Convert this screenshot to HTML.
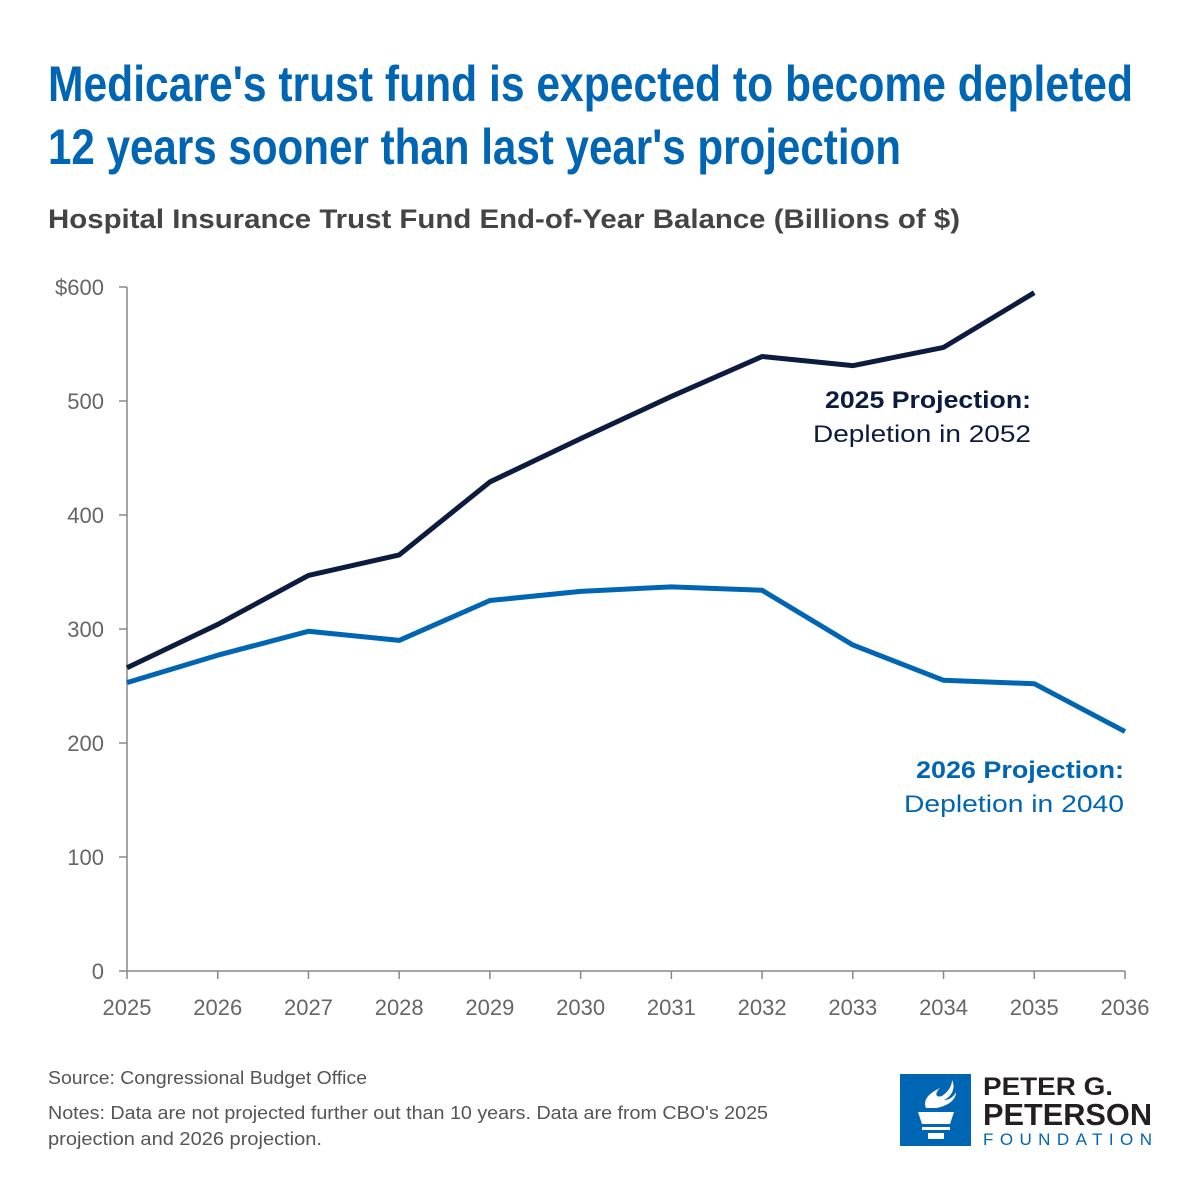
<!DOCTYPE html>
<html><head><meta charset="utf-8"><style>
body{margin:0;background:#fff;}
svg{display:block;font-family:"Liberation Sans",sans-serif;}
</style></head><body>
<svg id="chart" width="1200" height="1200" viewBox="0 0 1200 1200">
<text x="48" y="101" font-size="50" font-weight="bold" fill="#0066b3" textLength="1085" lengthAdjust="spacingAndGlyphs">Medicare's trust fund is expected to become depleted</text>
<text x="48" y="164" font-size="50" font-weight="bold" fill="#0066b3" textLength="853" lengthAdjust="spacingAndGlyphs">12 years sooner than last year's projection</text>
<text x="48" y="228" font-size="27" font-weight="bold" fill="#444" textLength="912" lengthAdjust="spacingAndGlyphs">Hospital Insurance Trust Fund End-of-Year Balance (Billions of $)</text>
<g id="axes"></g>
<g id="lines"></g>
<text x="825" y="408" font-size="24" font-weight="bold" fill="#0d1b3e" textLength="206" lengthAdjust="spacingAndGlyphs">2025 Projection:</text>
<text x="813" y="442" font-size="24" fill="#0d1b3e" textLength="218" lengthAdjust="spacingAndGlyphs">Depletion in 2052</text>
<text x="916" y="778" font-size="24" font-weight="bold" fill="#0066b3" textLength="208" lengthAdjust="spacingAndGlyphs">2026 Projection:</text>
<text x="904" y="812" font-size="24" fill="#0066b3" textLength="220" lengthAdjust="spacingAndGlyphs">Depletion in 2040</text>
<text x="48" y="1084" font-size="18" fill="#555" textLength="319" lengthAdjust="spacingAndGlyphs">Source: Congressional Budget Office</text>
<text x="48" y="1119" font-size="18" fill="#555" textLength="720" lengthAdjust="spacingAndGlyphs">Notes: Data are not projected further out than 10 years. Data are from CBO's 2025</text>
<text x="48" y="1145" font-size="18" fill="#555" textLength="274" lengthAdjust="spacingAndGlyphs">projection and 2026 projection.</text>
<g>
<rect x="900" y="1074" width="71" height="72" fill="#0066b3"/>
<path d="M918 1112 h36 l-4 12 h-28 z M922 1127 h28 v3 h-28 z M928 1133 h16 v6 h-16 z" fill="#fff"/>
<path d="M926 1108 c-4-10 6-16 14-20 c-6 6-4 10 2 8 c6-4 10-10 10-16 c4 8 0 16-8 20 c6 0 10-4 12-8 c0 8-8 14-20 16 z" fill="#fff"/>
<text x="983" y="1095" font-size="25" font-weight="bold" fill="#231f20" textLength="130" lengthAdjust="spacingAndGlyphs">PETER G.</text>
<text x="983" y="1125" font-size="31" font-weight="bold" fill="#231f20" textLength="169" lengthAdjust="spacingAndGlyphs">PETERSON</text>
<text x="983" y="1145" font-size="17" fill="#0066b3" textLength="169" lengthAdjust="spacing">FOUNDATION</text>
</g>
</svg>
<script>
const years=[2025,2026,2027,2028,2029,2030,2031,2032,2033,2034,2035,2036];
const proj2025=[266,304,347,365,429,467,504,539,531,547,595];
const proj2026=[253,277,298,290,325,333,337,334,286,255,252,210];
const yTicks=[0,100,200,300,400,500,600];
const yTickLabels=["0","100","200","300","400","500","$600"];
const NS="http://www.w3.org/2000/svg";
const x=y=>127+(y-2025)*(1125-127)/11;
const yv=v=>971-v*(971-287)/600;
const axes=document.getElementById('axes');
function mk(tag,attrs,parent){const e=document.createElementNS(NS,tag);for(const k in attrs)e.setAttribute(k,attrs[k]);parent.appendChild(e);return e;}
const ya=mk('line',{x1:127,y1:287,x2:127,y2:971,stroke:'#888','stroke-width':1.5},axes);


const xa=mk('line',{x1:127,y1:971,x2:1125,y2:971,stroke:'#888','stroke-width':1.5},axes);


yTicks.forEach((t,i)=>{
  mk('line',{x1:119,x2:127,y1:yv(t),y2:yv(t),stroke:'#888','stroke-width':1.5},axes);
  const tx=mk('text',{x:104,y:yv(t)+8,'font-size':22,fill:'#666','text-anchor':'end'},axes);
  tx.textContent=yTickLabels[i];
  
  
});
years.forEach(yr=>{
  mk('line',{x1:x(yr),x2:x(yr),y1:971,y2:979,stroke:'#888','stroke-width':1.5},axes);
  const tx=mk('text',{x:x(yr),y:1015,'font-size':22,fill:'#666','text-anchor':'middle'},axes);
  tx.textContent=yr;
  
  
});
const lines=document.getElementById('lines');
function draw(vals,color,name){
  const d=vals.map((v,i)=>(i?'L':'M')+x(years[i])+' '+yv(v)).join(' ');
  const p=mk('path',{d:d,fill:'none',stroke:color,'stroke-width':5,'stroke-linejoin':'round'},lines);
  
  
}
draw(proj2026,'#0066b3','line-2026-projection');
draw(proj2025,'#0d1b3e','line-2025-projection');
</script>
</body></html>
